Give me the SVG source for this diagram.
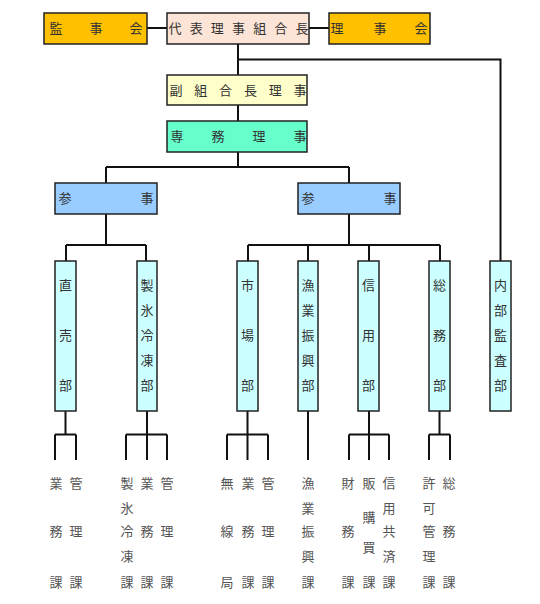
<svg xmlns="http://www.w3.org/2000/svg" width="540" height="604" viewBox="0 0 540 604">
<style>
.box{stroke:#222;stroke-width:1.5}
.ln{stroke:#111;stroke-width:2;fill:none}
text{font-family:"Noto Sans CJK JP","Noto Sans CJK SC",sans-serif;font-size:13px;fill:#333;text-anchor:middle}
.sub{fill:#555}
</style>
<rect width="540" height="604" fill="#fff"/>
<g id="connectors">
<path class="ln" d="M147 28H167M309 28H329"/>
<path class="ln" d="M238 44V75M238 59.5H500.5V261"/>
<path class="ln" d="M238 105V121M238 152V167M106 167H349M106 167V183M349 167V183"/>
<path class="ln" d="M106 214V245M66 245H146M66 245V261M146 245V261"/>
<path class="ln" d="M349 214V245M248 245H440M248 245V261M308 245V261M369 245V261M440 245V261"/>
<path class="ln" d="M65.5 411V434.5M55 434.5H76M55 434.5V460M76 434.5V460"/>
<path class="ln" d="M147 411V460M126 434.5H167M126 434.5V460M167 434.5V460"/>
<path class="ln" d="M247.5 411V460M227 434.5H268M227 434.5V460M268 434.5V460"/>
<path class="ln" d="M308 411V460"/>
<path class="ln" d="M369 411V460M349 434.5H389M349 434.5V460M389 434.5V460"/>
<path class="ln" d="M439.5 411V434.5M429 434.5H450M429 434.5V460M450 434.5V460"/>
</g>
<g id="kansa">
<rect class="box" x="44" y="13" width="103" height="31" fill="#ffc000"/>
<text x="56 96 136" y="33">監事会</text>
</g>
<g id="daihyo">
<rect class="box" x="167" y="13" width="142" height="31" fill="#fce4d6"/>
<text x="175 196.2 217.3 238.5 259.7 280.8 302" y="33">代表理事組合長</text>
</g>
<g id="rijikai">
<rect class="box" x="329" y="13" width="101" height="31" fill="#ffc000"/>
<text x="337 380 421" y="33">理事会</text>
</g>
<g id="fuku">
<rect class="box" x="167" y="75" width="140" height="30" fill="#ffffcc"/>
<text x="176 200.8 225.6 250.4 275.2 300" y="95">副組合長理事</text>
</g>
<g id="senmu">
<rect class="box" x="167" y="121" width="140" height="31" fill="#66ffcc"/>
<text x="177 218 259 300" y="141">専務理事</text>
</g>
<g id="sanji1">
<rect class="box" x="55" y="183" width="102" height="31" fill="#99ccff"/>
<text x="65 147" y="203">参事</text>
</g>
<g id="sanji2">
<rect class="box" x="298" y="183" width="102" height="31" fill="#99ccff"/>
<text x="308 390" y="203">参事</text>
</g>
<g id="chokubai">
<rect class="box" x="55" y="261" width="21" height="150" fill="#ccffff"/>
<text x="65.5" y="289.5">直</text><text x="65.5" y="339.5">売</text><text x="65.5" y="389.5">部</text>
</g>
<g id="seihyo">
<rect class="box" x="137" y="261" width="20" height="150" fill="#ccffff"/>
<text x="147" y="289.5">製</text><text x="147" y="314.5">氷</text><text x="147" y="339.5">冷</text><text x="147" y="364.5">凍</text><text x="147" y="389.5">部</text>
</g>
<g id="ichiba">
<rect class="box" x="237" y="261" width="21" height="150" fill="#ccffff"/>
<text x="247.5" y="289.5">市</text><text x="247.5" y="339.5">場</text><text x="247.5" y="389.5">部</text>
</g>
<g id="gyogyo">
<rect class="box" x="298" y="261" width="20" height="150" fill="#ccffff"/>
<text x="308" y="289.5">漁</text><text x="308" y="314.5">業</text><text x="308" y="339.5">振</text><text x="308" y="364.5">興</text><text x="308" y="389.5">部</text>
</g>
<g id="shinyo">
<rect class="box" x="358" y="261" width="21" height="150" fill="#ccffff"/>
<text x="368.5" y="289.5">信</text><text x="368.5" y="339.5">用</text><text x="368.5" y="389.5">部</text>
</g>
<g id="somu">
<rect class="box" x="429" y="261" width="21" height="150" fill="#ccffff"/>
<text x="439.5" y="289.5">総</text><text x="439.5" y="339.5">務</text><text x="439.5" y="389.5">部</text>
</g>
<g id="naibu">
<rect class="box" x="490" y="261" width="21" height="150" fill="#ccffff"/>
<text x="500.5" y="289.5">内</text><text x="500.5" y="314.5">部</text><text x="500.5" y="339.5">監</text><text x="500.5" y="364.5">査</text><text x="500.5" y="389.5">部</text>
</g>
<g id="ka-gyomu1" class="sub"><text class="sub" x="56" y="487.5">業</text><text class="sub" x="56" y="535.5">務</text><text class="sub" x="56" y="586.5">課</text></g>
<g id="ka-kanri1"><text class="sub" x="76" y="487.5">管</text><text class="sub" x="76" y="535.5">理</text><text class="sub" x="76" y="586.5">課</text></g>
<g id="ka-seihyo"><text class="sub" x="127" y="487.5">製</text><text class="sub" x="127" y="512.5">氷</text><text class="sub" x="127" y="535.5">冷</text><text class="sub" x="127" y="560.5">凍</text><text class="sub" x="127" y="586.5">課</text></g>
<g id="ka-gyomu2"><text class="sub" x="147" y="487.5">業</text><text class="sub" x="147" y="535.5">務</text><text class="sub" x="147" y="586.5">課</text></g>
<g id="ka-kanri2"><text class="sub" x="167" y="487.5">管</text><text class="sub" x="167" y="535.5">理</text><text class="sub" x="167" y="586.5">課</text></g>
<g id="ka-musen"><text class="sub" x="227" y="487.5">無</text><text class="sub" x="227" y="535.5">線</text><text class="sub" x="227" y="586.5">局</text></g>
<g id="ka-gyomu3"><text class="sub" x="248" y="487.5">業</text><text class="sub" x="248" y="535.5">務</text><text class="sub" x="248" y="586.5">課</text></g>
<g id="ka-kanri3"><text class="sub" x="268" y="487.5">管</text><text class="sub" x="268" y="535.5">理</text><text class="sub" x="268" y="586.5">課</text></g>
<g id="ka-gyogyo"><text class="sub" x="308" y="487.5">漁</text><text class="sub" x="308" y="512.5">業</text><text class="sub" x="308" y="535.5">振</text><text class="sub" x="308" y="560.5">興</text><text class="sub" x="308" y="586.5">課</text></g>
<g id="ka-zaimu"><text class="sub" x="348" y="487.5">財</text><text class="sub" x="348" y="535.5">務</text><text class="sub" x="348" y="586.5">課</text></g>
<g id="ka-hanbai"><text class="sub" x="369" y="487.5">販</text><text class="sub" x="369" y="521.5">購</text><text class="sub" x="369" y="551.5">買</text><text class="sub" x="369" y="586.5">課</text></g>
<g id="ka-kyosai"><text class="sub" x="389" y="487.5">信</text><text class="sub" x="389" y="512.5">用</text><text class="sub" x="389" y="535.5">共</text><text class="sub" x="389" y="560.5">済</text><text class="sub" x="389" y="586.5">課</text></g>
<g id="ka-kyoka"><text class="sub" x="429" y="487.5">許</text><text class="sub" x="429" y="512.5">可</text><text class="sub" x="429" y="535.5">管</text><text class="sub" x="429" y="560.5">理</text><text class="sub" x="429" y="586.5">課</text></g>
<g id="ka-somu"><text class="sub" x="449" y="487.5">総</text><text class="sub" x="449" y="535.5">務</text><text class="sub" x="449" y="586.5">課</text></g>
</svg>
